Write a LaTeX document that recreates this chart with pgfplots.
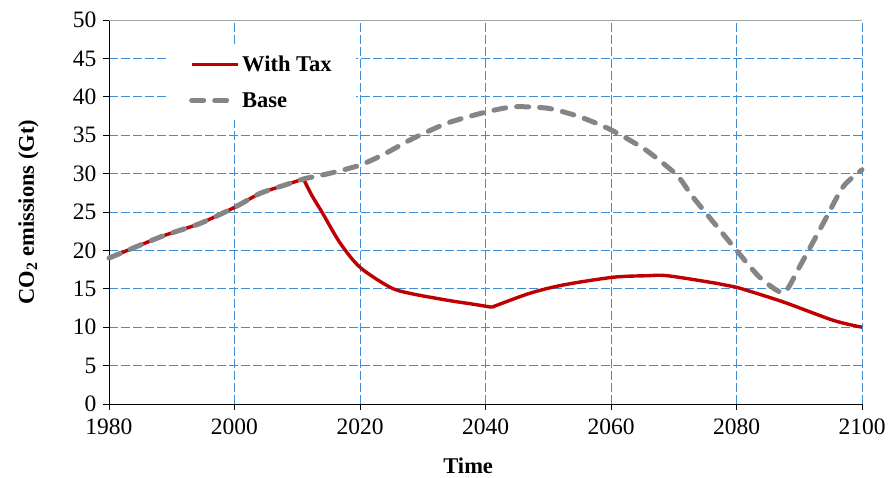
\documentclass[border=0pt]{standalone}
\usepackage{pgfplots}
\pgfplotsset{compat=1.18}
\usepackage{fontspec}
\setmainfont{Liberation Serif}
\definecolor{gridblue}{HTML}{3C8FD6}
\definecolor{taxred}{HTML}{C00000}
\definecolor{basegray}{HTML}{858585}
\begin{document}
\begin{tikzpicture}
\begin{axis}[
  scale only axis,
  width=753pt, height=384pt,
  xmin=1980, xmax=2100, ymin=0, ymax=50,
  xtick={1980,2000,...,2100},
  ytick={0,5,...,50},
  /pgf/number format/1000 sep={},
  /pgf/number format/assume math mode=true,
  tick label style={font=\fontsize{23.5}{26}\selectfont},
  tick align=outside,
  major tick length=6pt,
  tick style={black, line width=0.8pt},
  xtick pos=bottom, ytick pos=left,
  xticklabel style={yshift=-5pt},
  yticklabel style={xshift=-3pt},
  axis x line*=bottom, axis y line*=left,
  axis line style={black, line width=0.9pt},
  grid=major,
  major grid style={gridblue, line width=0.8pt, dash pattern=on 9pt off 3pt},
  ylabel={\textbf{CO\textsubscript{2} emissions (Gt)}},
  ylabel style={font=\fontsize{22.5}{25}\selectfont, at={(axis description cs:-0.107,0.5)}, anchor=center},
  xlabel={\textbf{Time}},
  xlabel style={font=\fontsize{22.5}{25}\selectfont, at={(axis description cs:0.477,-0.161)}, anchor=center},
  legend style={at={(axis description cs:0.077,0.935)}, anchor=north west, draw=none, fill=white,
    font=\fontsize{22.5}{25}\selectfont\bfseries, inner xsep=22pt, inner ysep=9pt, row sep=15pt},
  legend cell align=left,
  legend image code/.code={\draw[#1] (0pt,0pt) -- (46pt,0pt);},
  clip=false,
]
\draw[gray!70, line width=0.8pt] (axis description cs:0,1) -- (axis description cs:1,1);
\addplot[taxred, line width=3.4pt, smooth, tension=0.35] coordinates {
(1980,19.0) (1985,20.7) (1989,22.0) (1994.5,23.5) (2000,25.6) (2004,27.4) (2008,28.5) (2011,29.3)};
\addlegendentry{With Tax}
\addplot[taxred, line width=3.4pt, smooth, tension=0.5, forget plot] coordinates {
(2011,29.3) (2012.3,27.2) (2014,24.9) (2016.8,21.0) (2020,17.8) (2024.8,15.2) (2028,14.4) (2034,13.5) (2038,13.0) (2041,12.6)};
\addplot[taxred, line width=3.4pt, smooth, tension=0.5, forget plot] coordinates {
(2041,12.6) (2047,14.4) (2052.4,15.5) (2060.3,16.5) (2065.7,16.7) (2069,16.7) (2076.9,15.7) (2080,15.2)
(2087.4,13.3) (2095.4,10.9) (2100,10.0)};
\addplot[basegray, line width=5pt, line cap=round, dash pattern=on 12pt off 11pt, smooth, tension=0.4] coordinates {
(1980,19.0) (1985,20.7) (1989,22.0) (1994.5,23.5) (2000,25.6) (2004,27.4) (2008,28.5) (2011,29.3)
(2015,30.0) (2020,31.1) (2024,32.6) (2028.5,34.6) (2034,36.6) (2040,38.0) (2044.5,38.7) (2050,38.5)
(2055,37.4) (2060,35.7) (2065.5,33.1) (2070.5,29.8) (2073,27.0) (2077,23.0) (2080,20.0) (2083.7,16.5)
(2087.5,14.5) (2090,17.8) (2093.8,23.5) (2097,28.3) (2100,30.5)};
\addlegendentry{Base}
\end{axis}
\path[use as bounding box] (-109pt,-72pt) rectangle (780pt,404pt);
\end{tikzpicture}
\end{document}
